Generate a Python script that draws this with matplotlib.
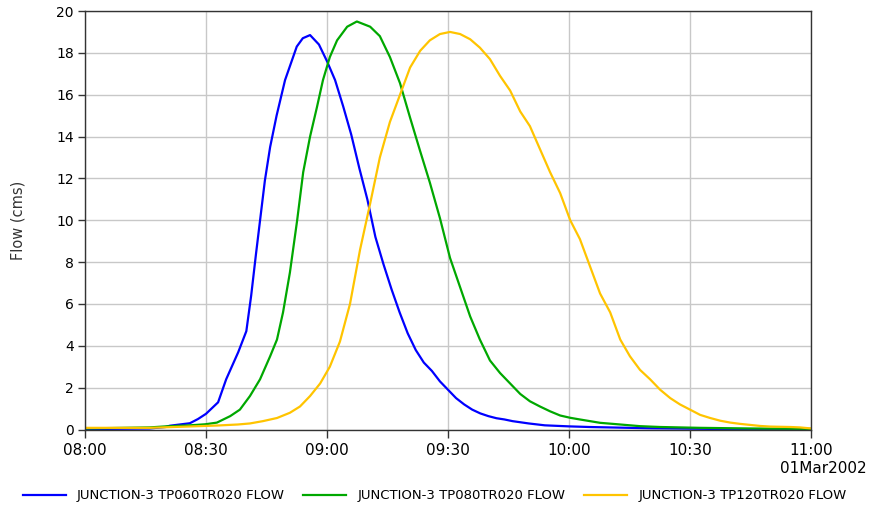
import matplotlib.pyplot as plt

# minutes after 08:00 on 01Mar2002
t_060 = [0, 16, 20, 21, 26, 28, 30, 33, 35, 38, 40, 41.2, 42.4, 44.6, 45.9, 47.5, 49.6, 52.5, 54, 55.8,
         58, 60, 62, 64, 66, 68, 70, 72, 74, 76, 78, 80, 82, 84, 86, 88, 90, 92, 94, 96, 98,
         100, 102, 104, 106, 110, 114, 120, 125, 130, 140, 150, 160, 180]
q_060 = [0.02, 0.05, 0.12, 0.18, 0.3, 0.5, 0.75, 1.3, 2.4, 3.7, 4.7, 6.4, 8.4, 11.9, 13.5, 15.0, 16.7, 18.3, 18.7, 18.85,
         18.4, 17.6, 16.7, 15.45, 14.1, 12.5, 11.0, 9.2, 7.9, 6.7, 5.6, 4.6, 3.8, 3.2, 2.8, 2.3, 1.9, 1.5, 1.2, 0.95, 0.77,
         0.64, 0.54, 0.48, 0.40, 0.29, 0.2, 0.15, 0.12, 0.1, 0.06, 0.04, 0.02, 0.0]

t_080 = [0, 16, 20, 26, 29.8, 32.7, 36, 38.4, 40.9, 43.4, 45.9, 47.6, 49.1, 50.8, 52.6, 54.1, 55.8,
         57.5, 59, 60.7, 62.5, 65, 67.4, 70.7, 73.1, 75.6, 78.1, 80.6, 83.1, 85.5, 88, 90.5, 93,
         95.5, 97.9, 100.4, 102.9, 105.4, 107.9, 110.3, 112.8, 115.3, 117.8, 120.3, 122.7, 127.7,
         132.7, 137.6, 142.6, 152.5, 164.9, 180]
q_080 = [0.05, 0.1, 0.15, 0.2, 0.25, 0.33, 0.64, 0.95, 1.6, 2.4, 3.5, 4.3, 5.6, 7.5, 10.0, 12.3, 14.0,
         15.4, 16.7, 17.8, 18.6, 19.25, 19.5, 19.25, 18.8, 17.8, 16.55, 14.9, 13.3, 11.8, 10.1, 8.2, 6.8,
         5.4, 4.3, 3.3, 2.7, 2.2, 1.7, 1.35, 1.1, 0.87, 0.67, 0.56, 0.48, 0.32,
         0.24, 0.16, 0.12, 0.08, 0.05, 0.03]

t_120 = [0, 16, 32.7, 37.9, 40.9, 44.1, 47.6, 50.8, 53.3, 55.8, 58.3, 60.7, 63.2, 65.7, 68.2, 70.7,
         73.1, 75.6, 78.1, 80.6, 83.1, 85.5, 88, 90.5, 93, 95.5, 97.9, 100.4, 102.9, 105.4, 107.9,
         110.3, 112.8, 115.3, 117.8, 120.3, 122.7, 125.2, 127.7, 130.2, 132.7, 135.1, 137.6, 140.1,
         142.6, 145.1, 147.5, 150, 152.5, 155, 157.5, 160, 162.4, 164.9, 167.4, 169.9, 172.4, 174.9,
         177.3, 180]
q_120 = [0.08, 0.08, 0.19, 0.24, 0.29, 0.4, 0.55, 0.8, 1.1, 1.6, 2.2, 3.0, 4.2, 6.0, 8.6, 10.8,
         13.0, 14.7, 16.0, 17.3, 18.1, 18.6, 18.9, 19.0, 18.9, 18.65, 18.25, 17.7, 16.9, 16.2, 15.2,
         14.5, 13.4, 12.3, 11.3, 10.0, 9.1, 7.8, 6.5, 5.6, 4.3, 3.5, 2.85, 2.4,
         1.9, 1.5, 1.2, 0.95, 0.7, 0.55, 0.42, 0.33, 0.27, 0.22, 0.17, 0.14, 0.13, 0.12,
         0.1, 0.05]

xtick_pos = [0, 30, 60, 90, 120, 150, 180]
xtick_lab = ['08:00', '08:30', '09:00', '09:30', '10:00', '10:30', '11:00']

fig = plt.figure(figsize=(8.69, 5.08), dpi=100)
ax = fig.add_axes([0.0978, 0.1545, 0.8355, 0.8238])

ax.plot(t_060, q_060, color='#0000ff', lw=1.6, label='JUNCTION-3 TP060TR020 FLOW')
ax.plot(t_080, q_080, color='#00a800', lw=1.6, label='JUNCTION-3 TP080TR020 FLOW')
ax.plot(t_120, q_120, color='#ffc400', lw=1.6, label='JUNCTION-3 TP120TR020 FLOW')

ax.set_xlim(0, 180)
ax.set_ylim(0, 20)
ax.set_xticks(xtick_pos)
ax.set_xticklabels(xtick_lab, fontsize=11)
ax.set_yticks(range(0, 21, 2))
ax.tick_params(axis='y', labelsize=10, length=5, width=1, color='#333333', pad=3)
ax.tick_params(axis='x', length=6, width=1, color='#333333', pad=4)
ax.grid(True, color='#c8c8c8', lw=1)
ax.set_axisbelow(True)
for s in ax.spines.values():
    s.set_color('#333333')
    s.set_linewidth(1)

ax.set_ylabel('Flow (cms)', fontsize=10.5, color='#333333', labelpad=22)
fig.text(0.997, 0.077, '01Mar2002', ha='right', va='center', fontsize=11)

fig.legend(loc='center', bbox_to_anchor=(0.5, 0.024), ncol=3, frameon=False, fontsize=9.5,
           handlelength=3.26, handletextpad=0.85, columnspacing=1.4)

plt.savefig('out.png', dpi=100)
